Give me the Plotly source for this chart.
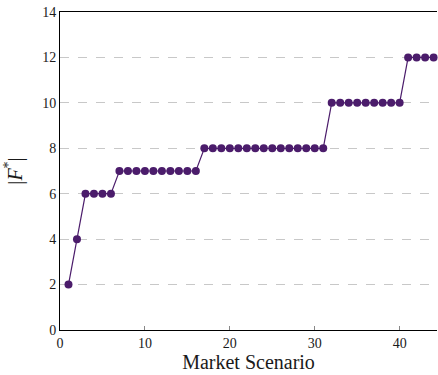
import plotly.graph_objects as go

scenarios = list(range(1, 45))
f_star = [2, 4, 6, 6, 6, 6,
          7, 7, 7, 7, 7, 7, 7, 7, 7, 7,
          8, 8, 8, 8, 8, 8, 8, 8, 8, 8, 8, 8, 8, 8, 8,
          10, 10, 10, 10, 10, 10, 10, 10, 10,
          12, 12, 12, 12]
x_ticks = [0, 10, 20, 30, 40]
y_ticks = [0, 2, 4, 6, 8, 10, 12, 14]

color = "#4b1c6b"
font = "Liberation Serif"

fig = go.Figure()
fig.add_trace(go.Scatter(
    x=scenarios, y=f_star, mode="lines+markers",
    line=dict(color=color, width=1.2),
    marker=dict(color=color, size=8),
    cliponaxis=False, showlegend=False,
))

fig.update_layout(
    width=438, height=375,
    margin=dict(l=60, r=1, t=12, b=45),
    plot_bgcolor="white", paper_bgcolor="white",
    font=dict(family=font, size=14, color="#1a1a1a"),
    xaxis=dict(
        range=[0, 44.4], tickvals=x_ticks, showgrid=False, zeroline=False,
        showline=True, linecolor="black", linewidth=1, mirror=True,
        ticks="inside", ticklen=4, tickcolor="#888",
        tickfont=dict(color="#1a1a1a", size=14, family=font),
        title=dict(text="Market Scenario", font=dict(size=20, family=font, color="#1a1a1a"), standoff=4),
    ),
    yaxis=dict(
        range=[0, 14], tickvals=y_ticks, zeroline=False,
        showgrid=True, gridcolor="#c8c8c8", griddash="dash", gridwidth=1,
        showline=True, linecolor="black", linewidth=1,
        ticks="",
        tickfont=dict(color="#1a1a1a", size=14, family=font),
        title=dict(text="|<i>F</i><sup>*</sup>|", font=dict(size=20, family=font, color="#1a1a1a"), standoff=14),
    ),
)
fig.write_html("out.html", config={"displayModeBar": False},
               post_script="document.body.style.margin='0';")
